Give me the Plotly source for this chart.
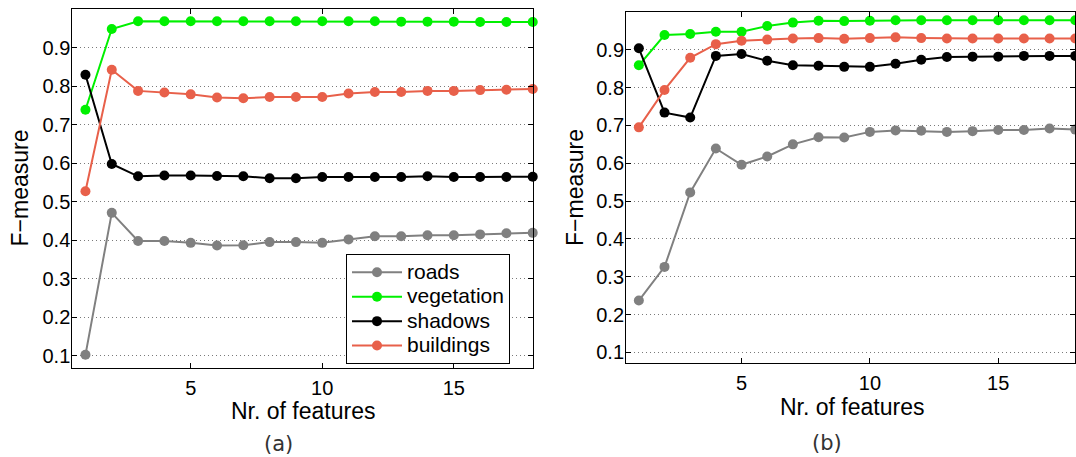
import plotly.graph_objects as go

# Number of selected features (shared x values for both panels)
n_features = list(range(1, 19))

# Panel (a): F-measure per class
a_roads = [0.102, 0.471, 0.398, 0.398, 0.393, 0.386, 0.387, 0.395, 0.395, 0.393,
           0.402, 0.410, 0.410, 0.413, 0.413, 0.415, 0.418, 0.419]
a_vegetation = [0.739, 0.949, 0.969, 0.969, 0.969, 0.969, 0.969, 0.969, 0.969, 0.969,
                0.969, 0.969, 0.968, 0.968, 0.968, 0.967, 0.967, 0.967]
a_shadows = [0.830, 0.598, 0.566, 0.568, 0.568, 0.567, 0.566, 0.561, 0.561, 0.564,
             0.564, 0.564, 0.564, 0.566, 0.564, 0.564, 0.564, 0.565]
a_buildings = [0.527, 0.843, 0.788, 0.784, 0.779, 0.771, 0.769, 0.772, 0.772, 0.772,
               0.781, 0.785, 0.785, 0.788, 0.788, 0.790, 0.791, 0.793]

# Panel (b): F-measure per class
b_roads = [0.237, 0.326, 0.523, 0.639, 0.596, 0.618, 0.650, 0.669, 0.668, 0.683,
           0.687, 0.686, 0.683, 0.685, 0.688, 0.688, 0.692, 0.689]
b_vegetation = [0.859, 0.939, 0.942, 0.948, 0.948, 0.963, 0.972, 0.977, 0.976, 0.977,
                0.978, 0.978, 0.978, 0.978, 0.978, 0.978, 0.978, 0.978]
b_shadows = [0.904, 0.734, 0.721, 0.884, 0.889, 0.871, 0.859, 0.858, 0.855, 0.855,
             0.863, 0.874, 0.881, 0.882, 0.882, 0.884, 0.884, 0.884]
b_buildings = [0.695, 0.794, 0.879, 0.915, 0.924, 0.927, 0.930, 0.931, 0.929, 0.931,
               0.933, 0.931, 0.930, 0.930, 0.930, 0.930, 0.930, 0.930]

class_names = ["roads", "vegetation", "shadows", "buildings"]
class_colors = ["#808080", "#00f000", "#000000", "#e8604a"]

y_ticks = [0.1, 0.2, 0.3, 0.4, 0.5, 0.6, 0.7, 0.8, 0.9]
x_ticks = [5, 10, 15]

FONT = "Liberation Sans, Arial, sans-serif"

fig = go.Figure()

panels = [
    ("x", "y", [a_roads, a_vegetation, a_shadows, a_buildings], True),
    ("x2", "y2", [b_roads, b_vegetation, b_shadows, b_buildings], False),
]
for xa, ya, series, show in panels:
    for name, color, vals in zip(class_names, class_colors, series):
        fig.add_trace(go.Scatter(
            x=n_features, y=vals,
            # larger glyphs than the legend row height implies, for a compact box
            name=f'<span style="font-size:21px">{name}</span>',
            mode="lines+markers",
            line=dict(color=color, width=2),
            marker=dict(color=color, size=10),
            xaxis=xa, yaxis=ya, showlegend=show, cliponaxis=False,
        ))

axis_common = dict(
    showline=True, linecolor="black", linewidth=1, mirror="ticks",
    ticks="inside", ticklen=5, tickcolor="black", tickwidth=1,
    tickfont=dict(family=FONT, size=20, color="black"),
    zeroline=False,
)
grid_style = dict(showgrid=True, gridcolor="#7a7a7a", griddash="1px,3px", gridwidth=1)

fig.update_layout(
    width=1076, height=457,
    margin=dict(l=0, r=0, t=0, b=0),
    paper_bgcolor="white", plot_bgcolor="white",
    font=dict(family=FONT, color="black"),
    xaxis=dict(domain=[0.0672, 0.4951], range=[0.5, 18], tickvals=x_ticks,
               showgrid=False, anchor="y", ticklabelstandoff=2, **axis_common),
    yaxis=dict(domain=[0.1941, 0.9796], range=[0.067, 1.0], tickvals=y_ticks,
               tickformat=".1f", anchor="x", ticklabelstandoff=-3,
               **grid_style, **axis_common),
    xaxis2=dict(domain=[0.5818, 0.9993], range=[0.5, 18], tickvals=x_ticks,
                showgrid=False, anchor="y2", ticklabelstandoff=2, **axis_common),
    yaxis2=dict(domain=[0.2050, 0.9737], range=[0.071, 1.0], tickvals=y_ticks,
                tickformat=".1f", anchor="x2", ticklabelstandoff=-3,
                **grid_style, **axis_common),
    legend=dict(x=346 / 1076, y=1 - 254 / 457, xanchor="left", yanchor="top",
                bgcolor="white", bordercolor="black", borderwidth=1,
                font=dict(family=FONT, size=16.5, color="black"),
                itemwidth=50, tracegroupgap=0),
)

# Axis titles and panel captions
labels = [
    dict(text="F\u2212measure", x=19, y=188.5, angle=-90, size=23),
    dict(text="F\u2212measure", x=575, y=188, angle=-90, size=23),
    dict(text="Nr. of features", x=303, y=411, angle=0, size=23),
    dict(text="Nr. of features", x=852, y=407, angle=0, size=23),
    dict(text="(a)", x=278, y=444, angle=0, size=21, family="DejaVu Sans", color="#333333"),
    dict(text="(b)", x=827, y=443, angle=0, size=21, family="DejaVu Sans", color="#333333"),
]
for lab in labels:
    fig.add_annotation(
        text=lab["text"], xref="paper", yref="paper",
        x=lab["x"] / 1076, y=1 - lab["y"] / 457,
        xanchor="center", yanchor="middle", showarrow=False,
        textangle=lab["angle"],
        font=dict(family=lab.get("family", FONT), size=lab["size"],
                  color=lab.get("color", "black")),
    )

fig.write_html("out.html")
